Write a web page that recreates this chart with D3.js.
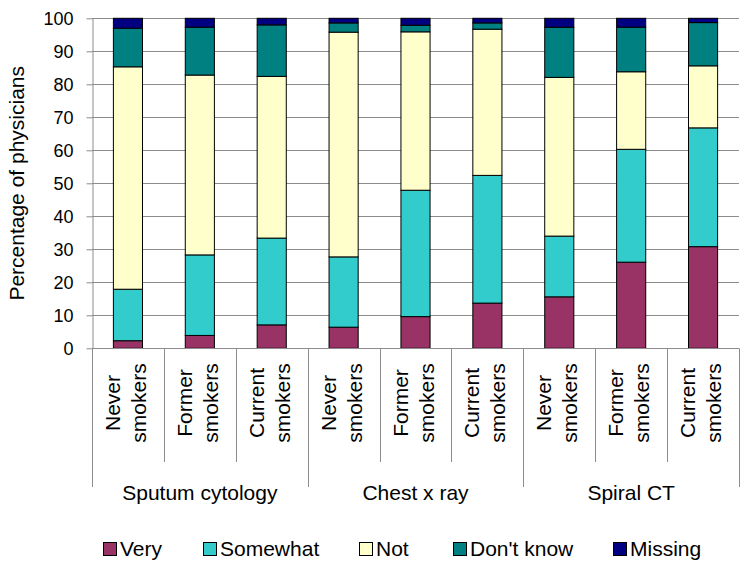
<!DOCTYPE html>
<html>
<head>
<meta charset="utf-8">
<script src="https://cdn.jsdelivr.net/npm/d3@7"></script>
<style>
  html, body { margin: 0; padding: 0; background: #fff; }
  svg { display: block; font-family: "Liberation Sans", Arial, sans-serif; }
</style>
</head>
<body>
<svg id="chart" width="749" height="567"></svg>
<script>
// ---- Data ----
const groups = ["Sputum cytology", "Chest x ray", "Spiral CT"];
const smokers = ["Never smokers", "Former smokers", "Current smokers"];
const seriesNames = ["Very", "Somewhat", "Not", "Don't know", "Missing"];
const seriesColors = ["#993366", "#33CCCC", "#FFFFCC", "#008080", "#000080"];
const veryVals      = [2.3, 3.9, 7.1, 6.4, 9.6, 13.7, 15.6, 26.1, 30.8];
const somewhatVals  = [15.6, 24.4, 26.3, 21.3, 38.3, 38.7, 18.4, 34.2, 36.0];
const notVals       = [67.4, 54.5, 49.0, 68.1, 48.0, 44.3, 48.1, 23.5, 18.8];
const dontKnowVals  = [11.7, 14.5, 15.6, 2.8, 2.0, 1.9, 15.2, 13.5, 13.1];
const missingVals   = [3.0, 2.7, 2.0, 1.4, 2.1, 1.4, 2.7, 2.7, 1.3];
const yTicks = [0, 10, 20, 30, 40, 50, 60, 70, 80, 90, 100];
const yTitle = "Percentage of physicians";

(function () {
// ---- Build table ----
const rows = [];
groups.forEach((g, gi) => smokers.forEach((s, si) => {
  const i = gi * 3 + si;
  rows.push({
    key: g + "|" + s, group: g, smoker: s,
    "Very": veryVals[i], "Somewhat": somewhatVals[i], "Not": notVals[i],
    "Don't know": dontKnowVals[i], "Missing": missingVals[i]
  });
}));

const svg = d3.select("#chart");
const pLeft = 92, pRight = 739, pTop = 18.3, pBottom = 348.3;

const x = d3.scaleBand().domain(rows.map(r => r.key)).range([pLeft, pRight]).paddingInner(0).paddingOuter(0);
const y = d3.scaleLinear().domain([0, 100]).range([pBottom, pTop]);
const color = d3.scaleOrdinal().domain(seriesNames).range(seriesColors);
const barW = x.bandwidth() * 0.405;

// gridlines
svg.append("g").selectAll("line").data(yTicks.filter(t => t > 0)).join("line")
  .attr("x1", pLeft).attr("x2", pRight)
  .attr("y1", d => Math.round(y(d)) + 0.5).attr("y2", d => Math.round(y(d)) + 0.5)
  .attr("stroke", "#8c8c8c").attr("stroke-width", 1);

// y axis
const yAxis = svg.append("g").attr("transform", `translate(${pLeft + 0.5},0)`)
  .call(d3.axisLeft(y).tickValues(yTicks).tickSize(6).tickPadding(13).tickSizeOuter(0));
yAxis.select(".domain").attr("stroke", "#8c8c8c");
yAxis.selectAll(".tick line").attr("stroke", "#8c8c8c");
yAxis.selectAll(".tick text").attr("font-size", 18).attr("fill", "#000")
  .attr("font-family", "'Liberation Sans', Arial, sans-serif");

// y title
svg.append("text").attr("transform", `translate(24,${(pTop + pBottom) / 2}) rotate(-90)`)
  .attr("text-anchor", "middle").attr("font-size", 21).attr("fill", "#000").text(yTitle);

// bars
const stacked = d3.stack().keys(seriesNames)(rows);
svg.append("g").selectAll("g").data(stacked).join("g")
  .attr("fill", d => color(d.key))
  .selectAll("rect").data(d => d).join("rect")
  .attr("x", d => x(d.data.key) + (x.bandwidth() - barW) / 2)
  .attr("width", barW)
  .attr("y", d => y(d[1]))
  .attr("height", d => y(d[0]) - y(d[1]))
  .attr("stroke", "#000").attr("stroke-width", 1);

// bottom axis line
svg.append("line").attr("x1", pLeft).attr("x2", pRight)
  .attr("y1", Math.round(pBottom) + 0.5).attr("y2", Math.round(pBottom) + 0.5)
  .attr("stroke", "#8c8c8c");

// separators
const bounds = d3.range(rows.length + 1);
svg.append("g").selectAll("line").data(bounds).join("line")
  .attr("x1", i => Math.round(pLeft + i * x.step()) + 0.5)
  .attr("x2", i => Math.round(pLeft + i * x.step()) + 0.5)
  .attr("y1", pBottom)
  .attr("y2", i => (i % 3 === 0) ? 487 : 462)
  .attr("stroke", "#8c8c8c");

// category labels (rotated, two lines)
const catG = svg.append("g").selectAll("g").data(rows).join("g")
  .attr("transform", d => `translate(${x(d.key) + x.bandwidth() / 2},403) rotate(-90)`);
catG.each(function(d) {
  const parts = d.smoker.split(" ");
  const t = d3.select(this).append("text").attr("text-anchor", "middle")
    .attr("font-size", 21).attr("fill", "#000");
  t.append("tspan").attr("x", 0).attr("y", -8).text(parts[0]);
  t.append("tspan").attr("x", 0).attr("y", 18).text(parts[1]);
});

// group labels
svg.append("g").selectAll("text").data(groups).join("text")
  .attr("x", (g, gi) => pLeft + (gi * 3 + 1.5) * x.step())
  .attr("y", 500).attr("text-anchor", "middle").attr("font-size", 21).attr("fill", "#000")
  .text(g => g);

// legend
const legendX = [103, 203, 359, 453, 613];
const leg = svg.append("g").selectAll("g").data(seriesNames).join("g")
  .attr("transform", (d, i) => `translate(${legendX[i]},542)`);
leg.append("rect").attr("x", 0.5).attr("y", 0.5).attr("width", 13).attr("height", 13)
  .attr("fill", d => color(d)).attr("stroke", "#000").attr("stroke-width", 1);
leg.append("text").attr("x", 17).attr("y", 13.5).attr("font-size", 21).attr("fill", "#000")
  .text(d => d);
})();
</script>
</body>
</html>
